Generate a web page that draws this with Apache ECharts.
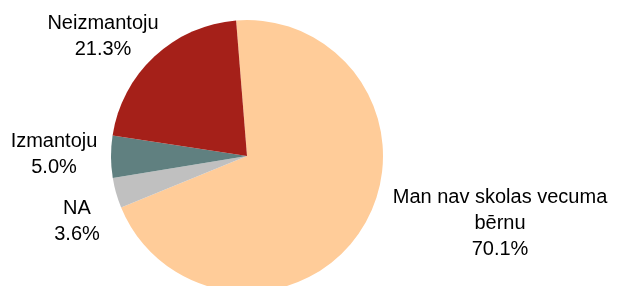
<!DOCTYPE html>
<html>
<head>
    <meta charset="utf-8"/>
    <title>Pie</title>
    <script src="https://cdn.jsdelivr.net/npm/echarts@6/dist/echarts.min.js"></script>
    <style>
        html, body { margin: 0; padding: 0; background: #fff; }
        #main { width: 617px; height: 286px; }
    </style>
</head>
<body>
    <div id="main"></div>
    <script type="text/javascript">
        // dati
        var categories = ['Man nav skolas vecuma\nbērnu', 'NA', 'Izmantoju', 'Neizmantoju'];
        var values = [70.1, 3.6, 5.0, 21.3];
        var colors = ['#ffcc99', '#c0c0c0', '#608080', '#a52019'];

        // label centres (layout only)
        var labelPos = [[500, 223], [77, 221], [54, 154], [103, 36]];

        var myChart = echarts.init(document.getElementById('main'));

        var pieData = categories.map(function (name, i) {
            return { name: name, value: values[i], itemStyle: { color: colors[i] } };
        });

        var option = {
            animation: false,
            series: [
                {
                    type: 'pie',
                    center: [247, 156],
                    radius: 136,
                    startAngle: 94.6,
                    clockwise: true,
                    avoidLabelOverlap: false,
                    data: pieData,
                    itemStyle: { borderWidth: 0 },
                    label: {
                        show: true,
                        position: 'outside',
                        color: '#000',
                        fontFamily: 'Liberation Sans, Arial, sans-serif',
                        fontSize: 20,
                        lineHeight: 26,
                        align: 'center',
                        formatter: function (p) {
                            return p.name + '\n' + p.value.toFixed(1) + '%';
                        }
                    },
                    labelLine: { show: false },
                    labelLayout: function (params) {
                        var p = labelPos[params.dataIndex];
                        return { x: p[0], y: p[1], align: 'center', verticalAlign: 'middle' };
                    },
                    emphasis: { disabled: true }
                }
            ]
        };

        myChart.setOption(option);
    </script>
</body>
</html>
